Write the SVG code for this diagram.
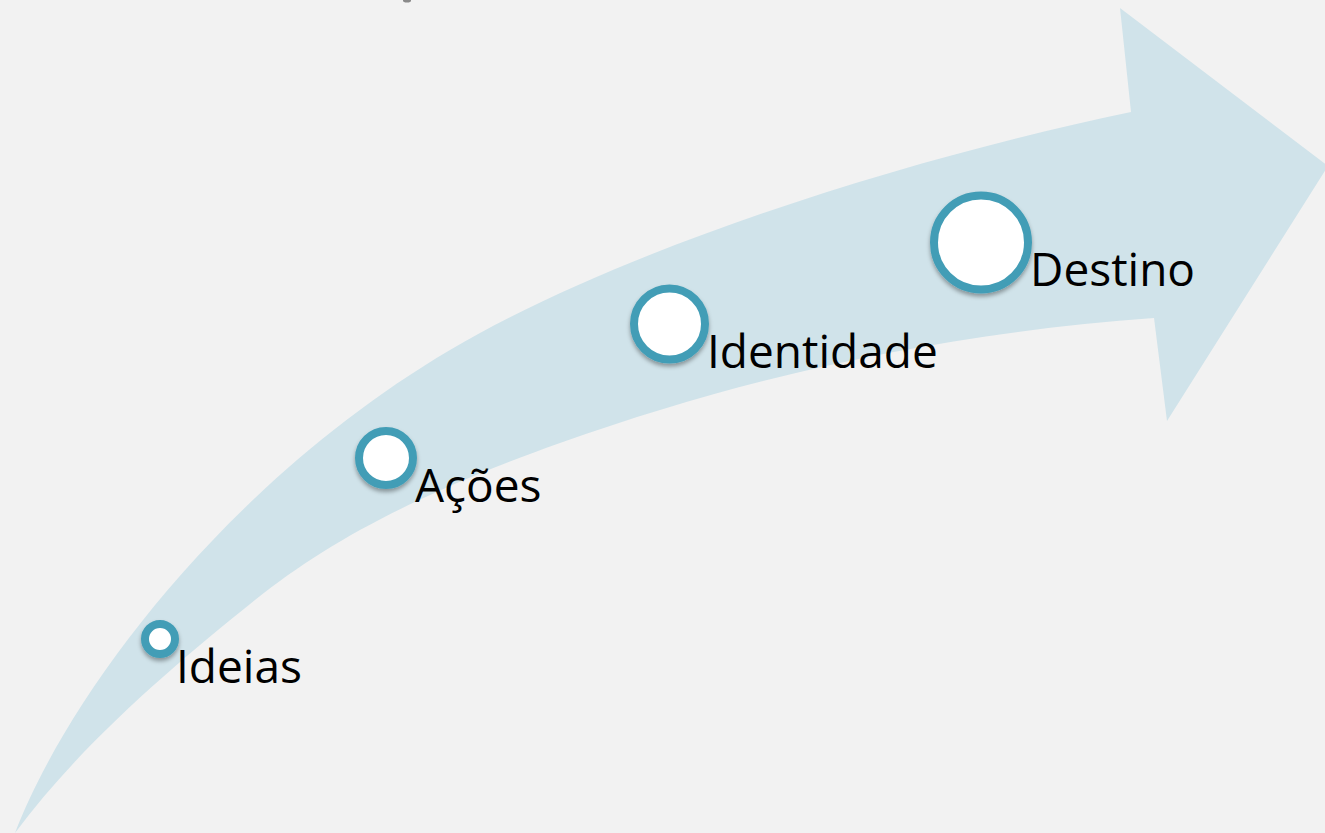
<svg xmlns="http://www.w3.org/2000/svg" width="1325" height="833" viewBox="0 0 1325 833">
  <style>
    .lbl { font-family: "Open Sans", "Liberation Sans", sans-serif; font-size: 46px; fill: #000; }
    .dot { fill: #fff; stroke: #439db6; stroke-width: 8; filter: url(#sh); }
  </style>
  <defs>
    <filter id="sh" x="-30%" y="-30%" width="160%" height="170%">
      <feDropShadow dx="0" dy="3" stdDeviation="2" flood-color="#000" flood-opacity="0.35"/>
    </filter>
  </defs>
  <rect width="1325" height="833" fill="#f2f2f2"/>
  <ellipse cx="407" cy="0.5" rx="4" ry="2" fill="#8a8a8a"/>
  <g id="arrow">
    <path fill="#d0e3ea" d="M 15,833 C 70,690 230,480 450,350 C 620,250 900,160 1131,112 L 1120,8 L 1328,166 L 1167,421 L 1154,318 C 950,333 760,372 560,443 C 420,493 330,540 255,600 C 175,664 80,745 15,833 Z"/>
  </g>
  <g id="connectors"></g>
  <g id="node-ideias">
    <circle class="dot" cx="160" cy="639" r="15"/>
    <text class="lbl" x="176" y="683">Ideias</text>
  </g>
  <g id="node-acoes">
    <circle class="dot" cx="386" cy="458" r="27"/>
    <text class="lbl" x="415" y="502">Ações</text>
  </g>
  <g id="node-identidade">
    <circle class="dot" cx="669.5" cy="324" r="35.5"/>
    <text class="lbl" x="707" y="368">Identidade</text>
  </g>
  <g id="node-destino">
    <circle class="dot" cx="981" cy="242.5" r="47"/>
    <text class="lbl" x="1030" y="286">Destino</text>
  </g>
</svg>
